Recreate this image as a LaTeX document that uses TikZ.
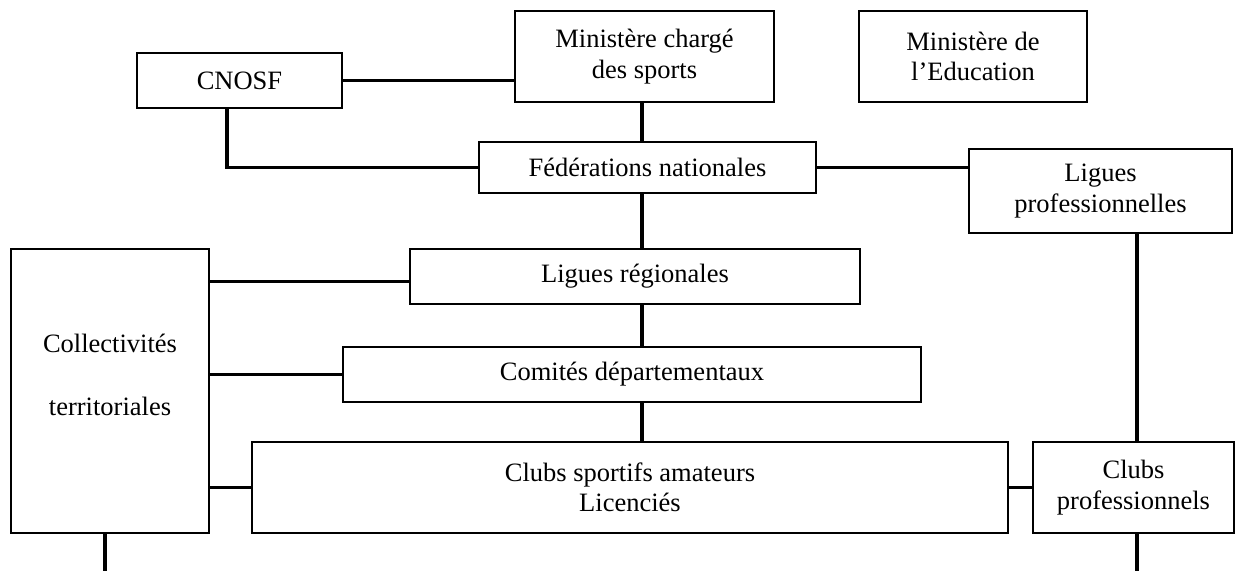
\documentclass[tikz,border=0pt]{standalone}
\usepackage{fontspec}
\setmainfont{Liberation Serif}
\begin{document}
\begin{tikzpicture}[x=1pt, y=-1pt,
        txt/.style={align=center, inner sep=0pt, font=\fontsize{26.5}{30.5}\selectfont},
        box/.style={txt, draw, line width=1.2pt},
        link/.style={line width=3.3pt}]
            \useasboundingbox (0,0) rectangle (1235,571);
            % top level
            \node[box, minimum width=205pt, minimum height=55pt] (cnosf) at (239.5,80.5) {CNOSF};
            \node[box, minimum width=259pt, minimum height=91pt] (minsport) at (644.5,56.5) {Ministère chargé\\des sports};
            \node[box, minimum width=228pt, minimum height=91pt] (mineduc) at (973,56.5) {Ministère de\\l'Education};
            \node[box, minimum width=337pt, minimum height=51pt] (fed) at (647.5,167.5) {Fédérations nationales};
            \node[box, minimum width=263pt, minimum height=84pt] (liguespro) at (1100.5,191) {Ligues\\professionnelles};
            % lower levels
            \node[box, minimum width=198pt, minimum height=284pt] (collect) at (110,391) {};
            \node[txt] (collecttext) at (110,375) {Collectivités\\[32.5pt]territoriales};
            \node[box, minimum width=450pt, minimum height=55pt] (liguesreg) at (635,276.5) {Ligues régionales};
            \node[box, minimum width=578pt, minimum height=55pt] (comites) at (632,374.5) {Comités départementaux};
            \node[box, minimum width=756pt, minimum height=91pt] (clubsam) at (630,487.5) {Clubs sportifs amateurs\\Licenciés};
            \node[box, minimum width=201pt, minimum height=91pt] (clubspro) at (1133.5,487.5) {Clubs\\professionnels};
            % connectors
            \coordinate (axis) at (642,0);
            \coordinate (proaxis) at (1137,0);
            \coordinate (leftend) at (105,571);
            \coordinate (rightend) at (1137,571);
            \draw[link] (cnosf.east) -- (cnosf.east -| minsport.west);
            \draw[link] (minsport.south -| axis) -- (fed.north -| axis);
            \draw[link] ([xshift=-12.5pt]cnosf.south) |- (fed.west);
            \draw[link] (fed.east) -- (fed.east -| liguespro.west);
            \draw[link] (fed.south -| axis) -- (liguesreg.north -| axis);
            \draw[link] (liguesreg.south -| axis) -- (comites.north -| axis);
            \draw[link] (comites.south -| axis) -- (clubsam.north -| axis);
            \draw[link] ([yshift=-5pt]liguesreg.west) -- ([yshift=-5pt]liguesreg.west -| collect.east);
            \draw[link] (comites.west) -- (comites.west -| collect.east);
            \draw[link] (clubsam.west) -- (clubsam.west -| collect.east);
            \draw[link] (clubsam.east) -- (clubspro.west);
            \draw[link] (liguespro.south -| proaxis) -- (clubspro.north -| proaxis);
            \draw[link] (collect.south -| leftend) -- (leftend);
            \draw[link] (clubspro.south -| rightend) -- (rightend);
\end{tikzpicture}
\end{document}
